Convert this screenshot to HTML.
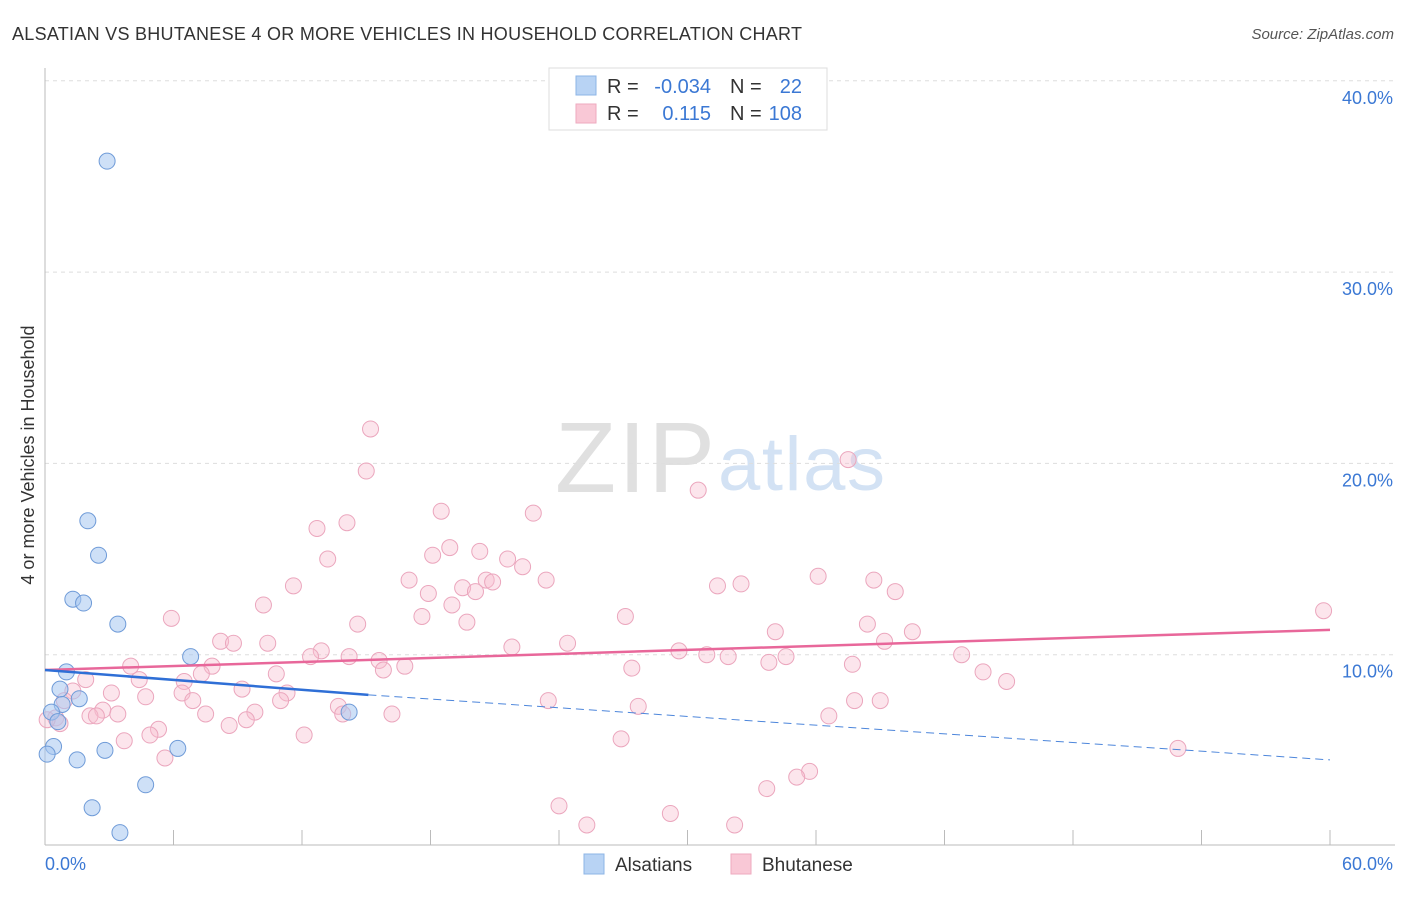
<!DOCTYPE html>
<html><head><meta charset="utf-8"><style>
body{margin:0;background:#fff;font-family:"Liberation Sans",sans-serif;}
svg text{font-family:"Liberation Sans",sans-serif;}
</style></head><body>
<svg id="chart" width="1406" height="892" xmlns="http://www.w3.org/2000/svg">
<text x="12" y="40" font-size="18" fill="#333" textLength="790">ALSATIAN VS BHUTANESE 4 OR MORE VEHICLES IN HOUSEHOLD CORRELATION CHART</text>
<text x="1394" y="39" font-size="15" fill="#555" font-style="italic" text-anchor="end">Source: ZipAtlas.com</text>
<text x="715" y="492" font-size="100" fill="#e0e0e0" font-family="Liberation Serif" text-anchor="end" textLength="160">ZIP</text>
<text x="718" y="490" font-size="76" fill="#d3e2f4" textLength="167">atlas</text>
<g id="grid"></g>
<g id="axes"></g>
<g id="marks"></g>
<text transform="translate(34,455) rotate(-90)" font-size="18" fill="#333" text-anchor="middle">4 or more Vehicles in Household</text>
<g>
<rect x="549" y="68" width="278" height="62" fill="#fff" stroke="#ddd"/>
<rect x="576" y="76" width="20" height="19" fill="#b8d3f4" stroke="#8db4e6"/>
<rect x="576" y="104" width="20" height="19" fill="#f9c8d6" stroke="#eeaabf"/>
<text x="607" y="93" font-size="20" fill="#333">R =</text>
<text x="711" y="93" font-size="20" fill="#3b78d4" text-anchor="end">-0.034</text>
<text x="730" y="93" font-size="20" fill="#333">N =</text>
<text x="802" y="93" font-size="20" fill="#3b78d4" text-anchor="end">22</text>
<text x="607" y="120" font-size="20" fill="#333">R =</text>
<text x="711" y="120" font-size="20" fill="#3b78d4" text-anchor="end">0.115</text>
<text x="730" y="120" font-size="20" fill="#333">N =</text>
<text x="802" y="120" font-size="20" fill="#3b78d4" text-anchor="end">108</text>
</g>
<g>
<rect x="584" y="854" width="20" height="20" fill="#b8d3f4" stroke="#8db4e6"/>
<text x="615" y="871" font-size="19" fill="#333">Alsatians</text>
<rect x="731" y="854" width="20" height="20" fill="#f9c8d6" stroke="#eeaabf"/>
<text x="762" y="871" font-size="19" fill="#333">Bhutanese</text>
</g>
</svg>
<script>
const xTicks=[0,6,12,18,24,30,36,42,48,54,60];
const yTicks=[10,20,30,40];
const yTickLabels=["10.0%","20.0%","30.0%","40.0%"];
const alsX=[2.9,2.0,2.5,1.3,1.8,3.4,6.8,1.0,0.7,1.6,0.8,0.3,0.6,0.4,0.1,2.8,1.5,6.2,4.7,2.2,3.5,14.2];
const alsY=[35.8,17.0,15.2,12.9,12.7,11.6,9.9,9.1,8.2,7.7,7.4,7.0,6.5,5.2,4.8,5.0,4.5,5.1,3.2,2.0,0.7,7.0];
const bhuX=[15.2,15.0,37.5,30.5,22.8,18.5,14.1,12.7,18.9,18.1,20.3,21.6,13.2,22.3,17.0,23.4,11.6,20.6,20.9,19.5,20.1,17.9,19.0,10.2,17.6,31.4,32.5,36.1,38.7,39.7,27.1,5.9,14.6,19.7,38.4,34.1,40.5,8.2,8.8,10.4,24.4,39.2,12.9,12.4,21.8,29.6,30.9,31.9,34.6,33.8,42.8,14.2,15.6,16.8,15.8,27.4,37.7,4.0,7.8,43.8,44.9,59.7,10.8,7.3,4.4,6.5,1.9,1.3,3.1,11.3,6.4,4.7,6.9,9.2,23.5,37.8,39.0,11.0,13.7,27.7,2.7,3.4,7.5,9.8,2.1,2.4,16.2,13.9,36.6,9.4,8.6,5.3,4.9,3.7,12.1,26.9,5.6,52.9,35.7,35.1,33.7,24.0,29.2,25.3,32.2,0.5,0.7,0.1,0.9];
const bhuY=[21.8,19.6,20.2,18.6,17.4,17.5,16.9,16.6,15.6,15.2,15.4,15.0,15.0,14.6,13.9,13.9,13.6,13.9,13.8,13.5,13.3,13.2,12.6,12.6,12.0,13.6,13.7,14.1,13.9,13.3,12.0,11.9,11.6,11.7,11.6,11.2,11.2,10.7,10.6,10.6,10.6,10.7,10.2,9.9,10.4,10.2,10.0,9.9,9.9,9.6,10.0,9.9,9.7,9.4,9.2,9.3,9.5,9.4,9.4,9.1,8.6,12.3,9.0,9.0,8.7,8.6,8.7,8.1,8.0,8.0,8.0,7.8,7.6,8.2,7.6,7.6,7.6,7.6,7.3,7.3,7.1,6.9,6.9,7.0,6.8,6.8,6.9,6.9,6.8,6.6,6.3,6.1,5.8,5.5,5.8,5.6,4.6,5.1,3.9,3.6,3.0,2.1,1.7,1.1,1.1,6.7,6.4,6.6,7.6];
const alsTrend=[[0,9.2],[15.1,7.9]];
const alsTrendDash=[[15.1,7.9],[60,4.5]];
const bhuTrend=[[0,9.2],[60,11.3]];
const X=v=>45+v*(1285/60), Y=v=>846-v*19.13;
const NS="http://www.w3.org/2000/svg";
function mk(tag,attrs,parent){const e=document.createElementNS(NS,tag);for(const k in attrs)e.setAttribute(k,attrs[k]);parent.appendChild(e);return e;}
const grid=document.getElementById('grid'),axes=document.getElementById('axes'),marks=document.getElementById('marks');
yTicks.forEach((t,i)=>{
 const l=mk('line',{x1:45,x2:1395,y1:Y(t),y2:Y(t),stroke:'#ddd','stroke-dasharray':'4,4'},grid);
 
 
 const tx=mk('text',{x:1393,y:Y(t)+23,'font-size':18,fill:'#3b78d4','text-anchor':'end'},axes);
 tx.textContent=yTickLabels[i];
 
 
});
const ax=mk('line',{x1:45,x2:1395,y1:845,y2:845,stroke:'#bbb'},axes);


const ay=mk('line',{x1:45,x2:45,y1:68,y2:845,stroke:'#bbb'},axes);


xTicks.forEach(t=>{const l=mk('line',{x1:X(t),x2:X(t),y1:830,y2:845,stroke:'#bbb'},axes);
 
 });
const xl0=mk('text',{x:45,y:870,'font-size':18,fill:'#3b78d4'},axes);xl0.textContent='0.0%';


const xl1=mk('text',{x:1393,y:870,'font-size':18,fill:'#3b78d4','text-anchor':'end'},axes);xl1.textContent='60.0%';


bhuX.forEach((x,i)=>{const c=mk('circle',{cx:X(x),cy:Y(bhuY[i]),r:8,fill:'rgba(248,190,208,0.4)',stroke:'#eba6bd','stroke-width':1},marks);
 
 });
alsX.forEach((x,i)=>{const c=mk('circle',{cx:X(x),cy:Y(alsY[i]),r:8,fill:'rgba(165,198,240,0.55)',stroke:'#6f9bd8','stroke-width':1},marks);
 
 });
const tb=mk('line',{x1:X(bhuTrend[0][0]),y1:Y(bhuTrend[0][1]),x2:X(bhuTrend[1][0]),y2:Y(bhuTrend[1][1]),stroke:'#e8679a','stroke-width':2.5},marks);


const ta=mk('line',{x1:X(alsTrend[0][0]),y1:Y(alsTrend[0][1]),x2:X(alsTrend[1][0]),y2:Y(alsTrend[1][1]),stroke:'#2f6fd6','stroke-width':2.5},marks);


const td=mk('line',{x1:X(alsTrendDash[0][0]),y1:Y(alsTrendDash[0][1]),x2:X(alsTrendDash[1][0]),y2:Y(alsTrendDash[1][1]),stroke:'#4d86db','stroke-width':1,'stroke-dasharray':'8,5'},marks);


</script>
</body></html>
